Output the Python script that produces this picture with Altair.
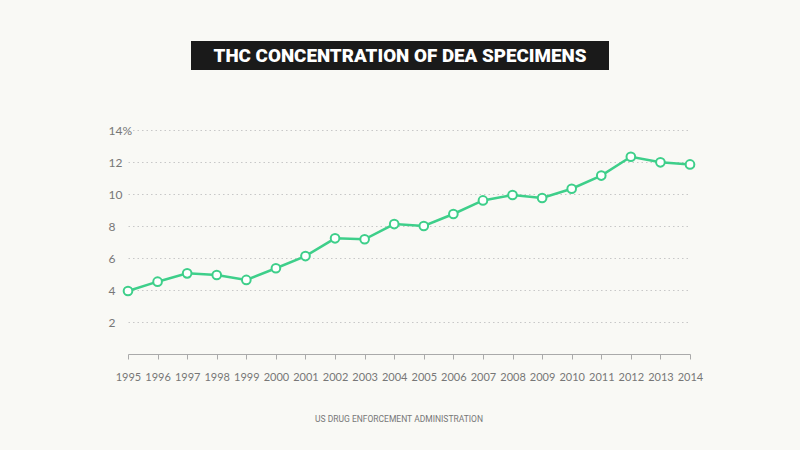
import altair as alt
import pandas as pd

years = [str(y) for y in range(1995, 2015)]
thc = [3.94, 4.52, 5.04, 4.94, 4.63, 5.36, 6.12, 7.23, 7.17, 8.12,
       8.0, 8.75, 9.6, 9.94, 9.75, 10.33, 11.15, 12.33, 11.98, 11.85]
y_ticks = [2, 4, 6, 8, 10, 12, 14]
title_text = "THC CONCENTRATION OF DEA SPECIMENS"
source_text = "US DRUG ENFORCEMENT ADMINISTRATION"

df = pd.DataFrame({"year": years, "thc": thc})
one = pd.DataFrame({"t": [title_text], "s": [source_text]})

GREEN = "#3ecf8a"
GRAY = "#777777"
FONT = "Lato"

x = alt.X("year:O", scale=alt.Scale(type="point", padding=0),
          axis=alt.Axis(title=None, labelAngle=0, labelColor=GRAY, labelFont=FONT,
                        labelFontSize=11, labelPadding=12, tickSize=5, tickColor="#aaaaaa",
                        domainColor="#aaaaaa", domainWidth=1, grid=False,
                        labelOverlap=False))
y = alt.Y("thc:Q", scale=alt.Scale(domain=[0, 14], nice=False),
          axis=alt.Axis(title=None, values=y_ticks, tickCount=7, domain=False, ticks=False,
                        labelAlign="left", labelPadding=20, labelColor=GRAY,
                        labelFont=FONT, labelFontSize=12, labelOverlap=False,
                        labelExpr="datum.value == 14 ? '14%' : datum.label",
                        grid=True, gridColor="#c8c8c8", gridDash=[1.5, 3], gridWidth=1.2))

line = alt.Chart(df).mark_line(color=GREEN, strokeWidth=2.5).encode(x=x, y=y)
pts = alt.Chart(df).mark_point(filled=True, fill="#ffffff", stroke=GREEN, strokeWidth=2,
                               size=75, opacity=1).encode(x=x, y=y)

box = alt.Chart(one).mark_rect(color="#1a1a1a", clip=False).encode(
    x=alt.value(63), x2=alt.value(481), y=alt.value(-89), y2=alt.value(-60))
ttl = alt.Chart(one).mark_text(color="white", font="Roboto", fontWeight=900, fontSize=18.8,
                               align="center", baseline="middle", clip=False).encode(
    x=alt.value(272), y=alt.value(-74), text="t:N")
src = alt.Chart(one).mark_text(color=GRAY, font="Roboto", fontSize=8.5,
                               align="center", baseline="middle", clip=False).encode(
    x=alt.value(271), y=alt.value(289), text="s:N")

chart = alt.layer(line, pts, box, ttl, src).properties(
    width=562, height=224,
    autosize=alt.AutoSizeParams(type="none"),
    padding={"left": 128, "top": 130, "right": 110, "bottom": 96},
    background="#f9f9f5",
).configure_view(stroke=None).configure_axis(labelOverlap=False)

chart.save("out.html", embed_options={"renderer": "svg", "actions": False})
